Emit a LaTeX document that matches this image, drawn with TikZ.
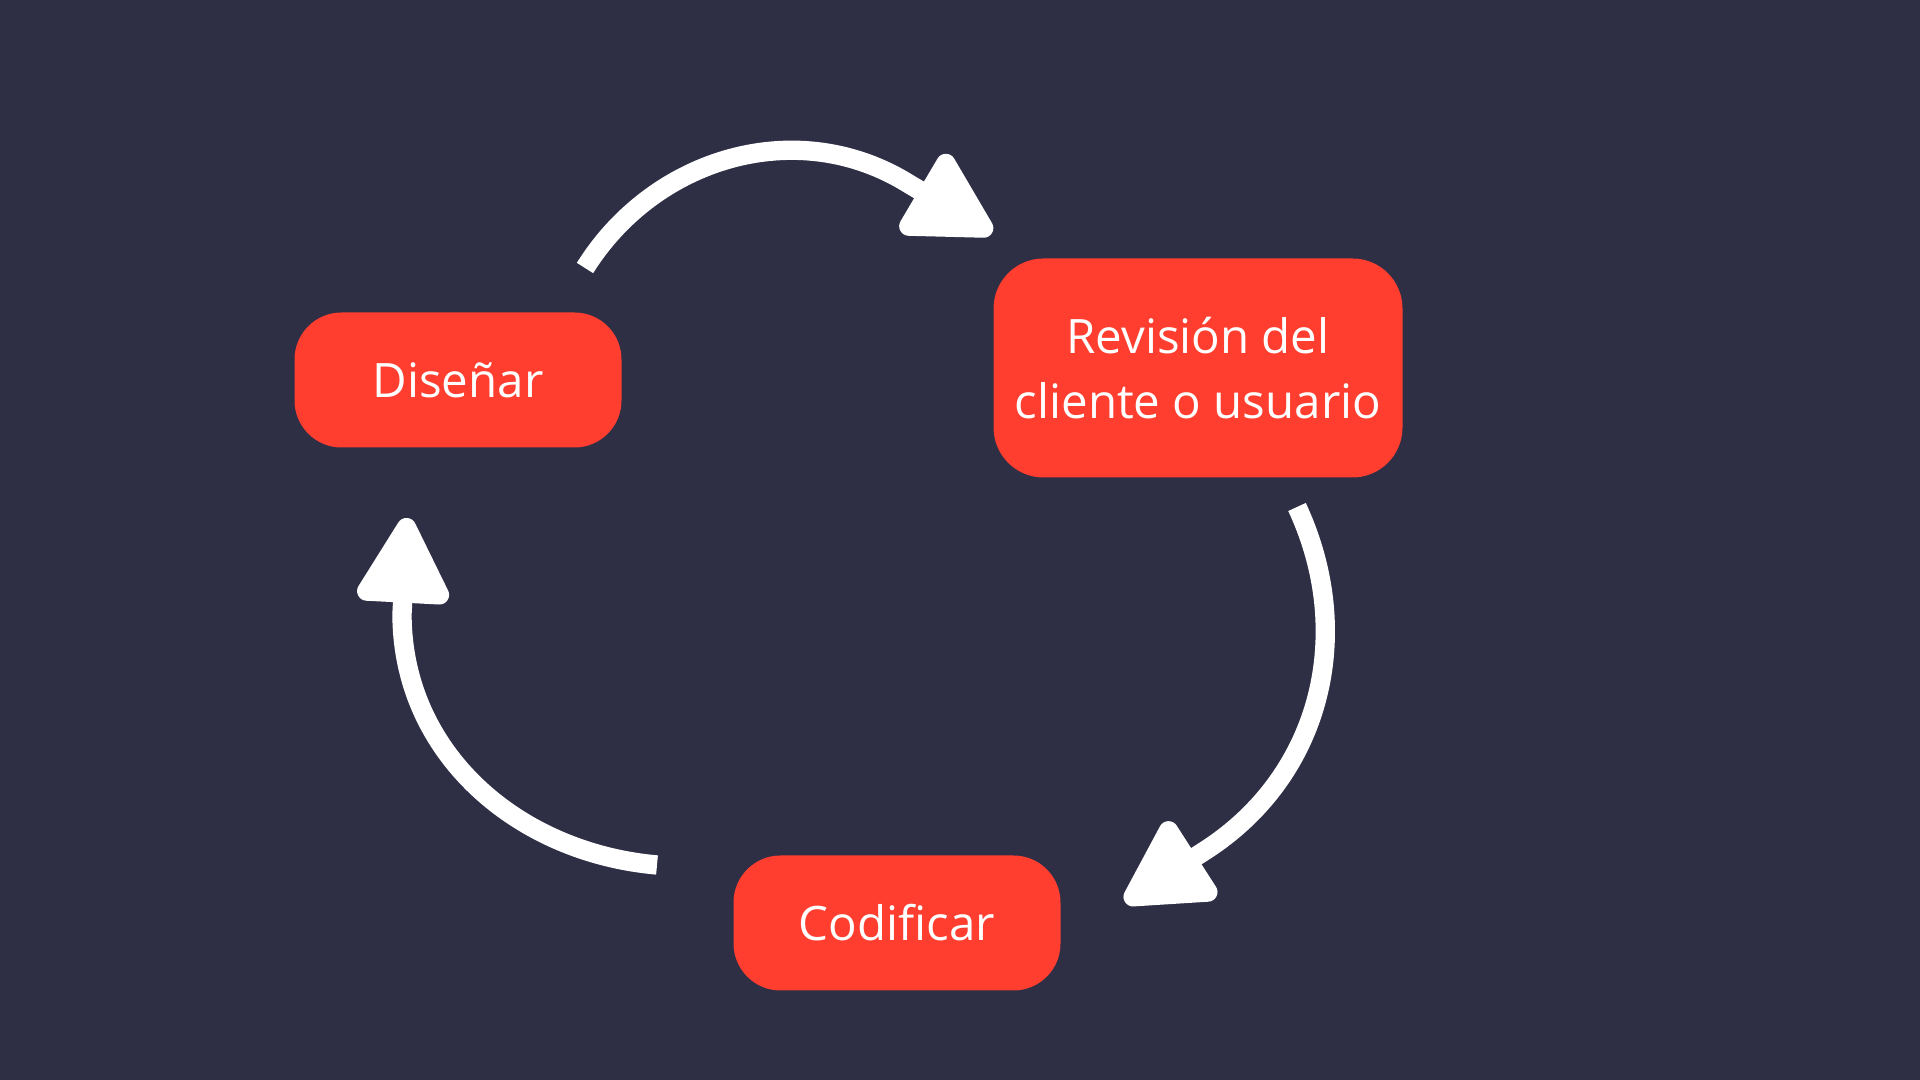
\documentclass[tikz,border=0pt]{standalone}
\usepackage{fontspec}
\setmainfont{Open Sans}
\usetikzlibrary{arrows.meta}

\definecolor{fondo}{RGB}{46,46,69}
\definecolor{rojo}{RGB}{255,62,48}

\begin{document}
\begin{tikzpicture}[
  paso/.style={fill=rojo, text=white, rounded corners=0.47cm, minimum width=3.27cm, minimum height=1.35cm, align=center, font=\fontsize{13.5}{18.5}\selectfont},
  flecha/.style={white, line width=5.5pt, -{Triangle[length=9.6mm,width=10mm,round]}}
]

\fill[fondo] (0,0) rectangle (19.2,10.8);
\useasboundingbox (0,0) rectangle (19.2,10.8);

\node[paso] (dis) at (4.58,7.00) {Diseñar};
\node[paso, minimum width=4.09cm, minimum height=2.19cm, rounded corners=0.5cm] (rev) at (11.98,7.12) {Revisión del\\cliente o usuario};
\node[paso] (cod) at (8.97,1.57) {Codificar};

% Top arrow
\coordinate (a1s) at (5.85,8.12);
\coordinate (a1b) at (9.09,8.96);
\coordinate (a1t) at (9.92,8.47);
\draw[flecha] (a1s) to[out=58,in=148] (a1b) -- (a1t);

% Right arrow
\coordinate (a2s) at (12.97,5.73);
\coordinate (a2b) at (12.06,2.30);
\coordinate (a2t) at (11.25,1.78);
\draw[flecha] (a2s) to[out=-65,in=33] (a2b) -- (a2t);

% Left arrow
\coordinate (a3s) at (6.57,2.15);
\coordinate (a3b) at (4.02,4.66);
\coordinate (a3t) at (4.07,5.62);
\draw[flecha] (a3s) to[out=175,in=-90] (a3b) -- (a3t);

\end{tikzpicture}
\end{document}
